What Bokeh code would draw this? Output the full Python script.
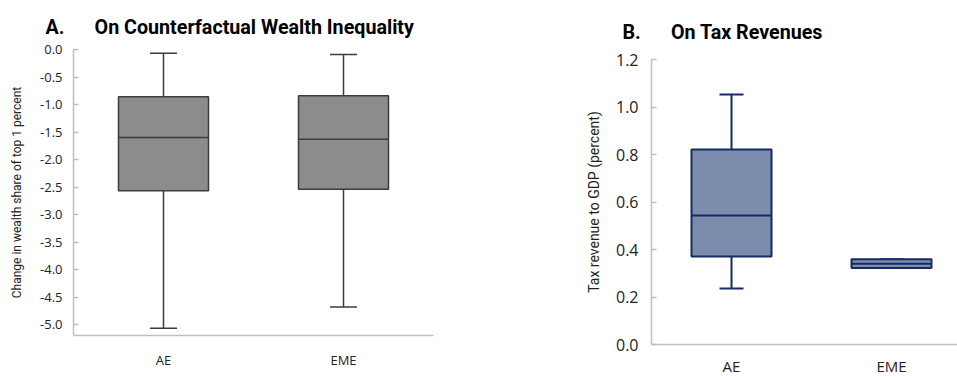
from bokeh.plotting import figure
from bokeh.layouts import row, column
from bokeh.models import ColumnDataSource, Range1d, FixedTicker, PrintfTickFormatter
from bokeh.embed import file_html
from bokeh.resources import INLINE

categories = ["AE", "EME"]

# Panel A: change in wealth share of top 1 percent
a_low = [-5.07, -4.68]
a_q1 = [-2.57, -2.54]
a_median = [-1.60, -1.63]
a_q3 = [-0.86, -0.84]
a_high = [-0.07, -0.09]
a_ticks = [0.0, -0.5, -1.0, -1.5, -2.0, -2.5, -3.0, -3.5, -4.0, -4.5, -5.0]

# Panel B: tax revenue to GDP (percent)
b_low = [0.236, 0.322]
b_q1 = [0.371, 0.322]
b_median = [0.543, 0.340]
b_q3 = [0.821, 0.359]
b_high = [1.053, 0.359]
b_ticks = [0.0, 0.2, 0.4, 0.6, 0.8, 1.0, 1.2]

title_a = "A.\u2003\u2002On Counterfactual Wealth Inequality"
title_b = "B.\u2003\u2002On Tax Revenues"

TITLE_FONT = "Roboto"
LABEL_FONT = "Open Sans"
AXIS_COLOR = "#BFBFBF"


def make_source(low, q1, med, q3, high):
    xs = [i + 0.5 for i in range(len(categories))]
    return ColumnDataSource(dict(
        x=xs, low=low, q1=q1, med=med, q3=q3, high=high,
        x0=[x - 0.25 for x in xs], x1=[x + 0.25 for x in xs],
        c0=[x - 0.075 for x in xs], c1=[x + 0.075 for x in xs],
    ))


def draw_boxes(p, src, fill, line, lw):
    p.segment(x0="x", y0="low", x1="x", y1="q1", source=src, line_color=line, line_width=lw)
    p.segment(x0="x", y0="q3", x1="x", y1="high", source=src, line_color=line, line_width=lw)
    p.segment(x0="c0", y0="low", x1="c1", y1="low", source=src, line_color=line, line_width=lw)
    p.segment(x0="c0", y0="high", x1="c1", y1="high", source=src, line_color=line, line_width=lw)
    p.vbar(x="x", width=0.5, bottom="q1", top="q3", source=src,
           fill_color=fill, line_color=line, line_width=lw)
    p.segment(x0="x0", y0="med", x1="x1", y1="med", source=src, line_color=line, line_width=lw)


def style(p, ticks, tick_size, cat_size, label_size, tick_standoff, label_standoff, cat_standoff,
          title_offset, title_standoff, title_size):
    p.grid.visible = False
    p.outline_line_color = None
    p.background_fill_color = "white"
    p.border_fill_color = "white"
    p.title.align = "left"
    p.title.vertical_align = "top"
    p.title.offset = title_offset
    p.title.standoff = title_standoff
    p.title.text_font = TITLE_FONT
    p.title.text_font_style = "bold"
    p.title.text_font_size = f"{title_size}px"
    p.title.text_color = "black"
    for ax in (p.xaxis[0], p.yaxis[0]):
        ax.axis_line_color = AXIS_COLOR
        ax.axis_line_width = 1.5
        ax.major_tick_line_color = AXIS_COLOR
        ax.major_tick_line_width = 1.5
        ax.minor_tick_line_color = None
        ax.major_label_text_font = LABEL_FONT
        ax.major_label_text_color = "#222222"
    p.yaxis.ticker = FixedTicker(ticks=ticks)
    p.yaxis.formatter = PrintfTickFormatter(format="%.1f")
    p.yaxis.major_tick_in = 5
    p.yaxis.major_tick_out = 0
    p.yaxis.major_label_text_font_size = f"{tick_size}px"
    p.yaxis.major_label_standoff = tick_standoff
    p.yaxis.axis_label_text_font = TITLE_FONT
    p.yaxis.axis_label_text_font_style = "normal"
    p.yaxis.axis_label_text_font_size = f"{label_size}px"
    p.yaxis.axis_label_text_color = "#222222"
    p.yaxis.axis_label_standoff = label_standoff
    p.xaxis.ticker = FixedTicker(ticks=[i + 0.5 for i in range(len(categories))])
    p.xaxis.major_label_overrides = {i + 0.5: c for i, c in enumerate(categories)}
    p.xaxis.major_tick_in = 0
    p.xaxis.major_tick_out = 0
    p.xaxis.major_label_text_font_size = f"{cat_size}px"
    p.xaxis.major_label_standoff = cat_standoff


# ---------- Panel A ----------
pa = figure(frame_width=360, frame_height=286, output_backend="svg", toolbar_location=None,
            title=title_a, x_range=Range1d(0, 2), y_range=Range1d(-5.2, 0.0),
            min_border_left=73, min_border_right=45, min_border_top=49, min_border_bottom=42,
            y_axis_label="Change in wealth share of top 1 percent")
style(pa, a_ticks, 13, 13, 12, 11, 13, 15, -28, 18, 19.7)
draw_boxes(pa, make_source(a_low, a_q1, a_median, a_q3, a_high), "#8C8C8C", "#3C3C3C", 1.5)

# ---------- Panel B ----------
pb = figure(frame_width=306, frame_height=285, output_backend="svg", toolbar_location=None,
            title=title_b, x_range=Range1d(0, 306 / 160), y_range=Range1d(0.0, 1.2),
            min_border_left=173, min_border_right=0, min_border_top=59, min_border_bottom=33,
            y_axis_label="Tax revenue to GDP (percent)")
style(pb, b_ticks, 16, 15, 14, 13, 11, 11, -29, 28, 19.7)
draw_boxes(pb, make_source(b_low, b_q1, b_median, b_q3, b_high), "#7C8CAC", "#172B63", 2)

layout = row(column(pa), column(pb))
open("out.html", "w").write(file_html(layout, INLINE))
